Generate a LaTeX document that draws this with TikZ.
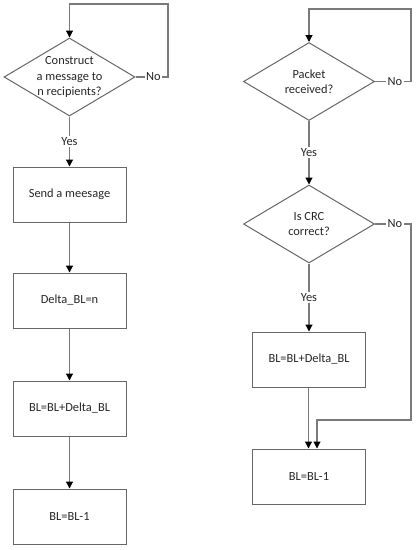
\documentclass[tikz,border=0pt]{standalone}
\usepackage{fontspec}
\setmainfont{Carlito}
\usetikzlibrary{shapes.geometric,arrows.meta}
\definecolor{linec}{HTML}{7A7A7A}
\definecolor{boxc}{HTML}{666666}
\definecolor{txtc}{HTML}{262626}
\begin{document}
\begin{tikzpicture}[x=1pt,y=-1pt,
  font=\fontsize{12.4}{15.5}\selectfont, text=txtc,
  boxnode/.style={draw=boxc,line width=1pt,minimum width=113pt,minimum height=55pt,inner sep=0pt},
  dianode/.style={draw=boxc,line width=1pt,diamond,minimum width=131pt,minimum height=78pt,inner sep=0pt},
  dtext/.style={align=center,inner sep=0pt},
  conn/.style={draw=linec,line width=1.2pt,-{Triangle[color=black,width=7pt,length=7pt]}},
  lbl/.style={fill=white,inner sep=1.5pt}]
\useasboundingbox (0,0) rectangle (419,550);
% left column
\node[dianode] (d1) at (69.5,77) {};
\node[dtext] (t1) at (d1.center) {Construct\\a message to\\n recipients?};
\node[boxnode] (b1) at (69.5,194.5) {Send a meesage};
\node[boxnode] (b2) at (69.5,300.5) {Delta\_BL=n};
\node[boxnode] (b3) at (69.5,408.5) {BL=BL+Delta\_BL};
\node[boxnode] (b4) at (69.5,516.5) {BL=BL-1};
\coordinate (l1) at (168,77);
\coordinate (l2) at (168,4);
\coordinate (l3) at (69.5,4);
\draw[conn] (d1.east) -- node[lbl,pos=0.55]{No} (l1) -- (l2) -- (l3) -- (d1.north);
\draw[conn] (d1.south) -- node[lbl]{Yes} (b1.north);
\draw[conn] (b1.south) -- (b2.north);
\draw[conn] (b2.south) -- (b3.north);
\draw[conn] (b3.south) -- (b4.north);
% right column
\node[dianode] (d2) at (309,81.5) {};
\node[dtext] (t2) at (d2.center) {Packet\\received?};
\node[dianode] (d3) at (309,224) {};
\node[dtext] (t3) at (d3.center) {Is CRC\\correct?};
\node[boxnode] (b5) at (309,359.5) {BL=BL+Delta\_BL};
\node[boxnode] (b6) at (309,476.5) {BL=BL-1};
\coordinate (r1) at (411,81.5);
\coordinate (r2) at (411,9);
\coordinate (r3) at (309,9);
\draw[conn] (d2.east) -- node[lbl,pos=0.55]{No} (r1) -- (r2) -- (r3) -- (d2.north);
\draw[conn] (d2.south) -- node[lbl]{Yes} (d3.north);
\draw[conn] (d3.south) -- node[lbl]{Yes} (b5.north);
\draw[conn] ([xshift=-0.5pt]b5.south) -- ([xshift=-0.5pt]b6.north);
\coordinate (s1) at (411,224);
\coordinate (s2) at (411,420);
\coordinate (s3) at (317,420);
\draw[conn] (d3.east) -- node[lbl,pos=0.55]{No} (s1) -- (s2) -- (s3) -- ([xshift=8pt]b6.north);
\end{tikzpicture}
\end{document}
